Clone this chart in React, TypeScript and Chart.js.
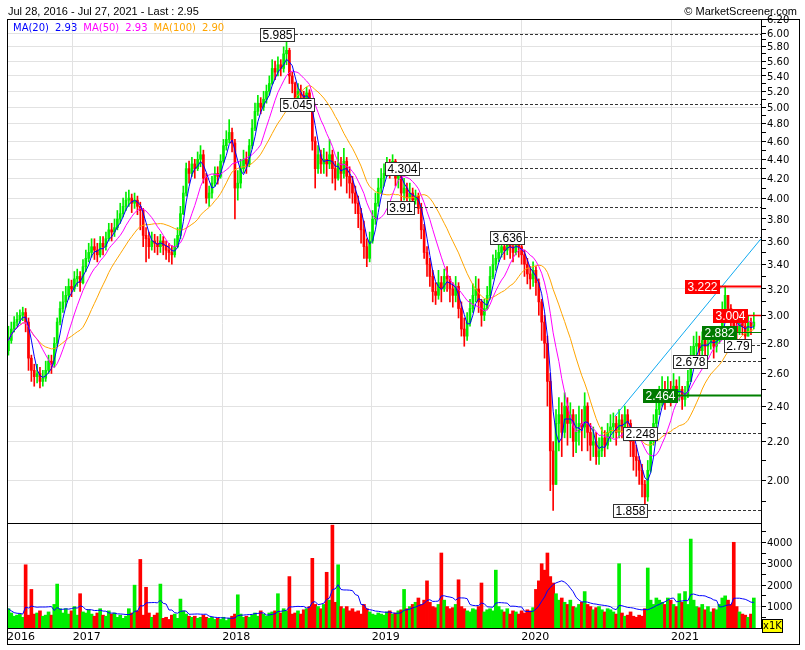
import React, { useEffect, useRef } from 'react';
import { Chart, registerables } from 'chart.js';

Chart.register(...registerables);

// ---------- DATA (weekly candles, Jul 2016 - Jul 2021) ----------
const firstOpen = 2.75;

const closes = [
  2.82, 2.90, 2.95, 2.97, 3.00, 3.02, 2.95, 2.70, 2.62, 2.58,
  2.60, 2.55, 2.57, 2.62, 2.68, 2.66, 2.80, 2.95, 3.05, 3.10,
  3.15, 3.22, 3.20, 3.28, 3.30, 3.25, 3.38, 3.45, 3.50, 3.55,
  3.52, 3.48, 3.58, 3.55, 3.62, 3.70, 3.68, 3.72, 3.80, 3.85,
  3.92, 3.98, 4.00, 3.95, 3.98, 3.92, 3.88, 3.65, 3.62, 3.55,
  3.60, 3.58, 3.55, 3.60, 3.56, 3.52, 3.50, 3.48, 3.55, 3.65,
  3.85, 4.05, 4.30, 4.25, 4.35, 4.30, 4.40, 4.45, 4.20, 4.00,
  4.05, 4.15, 4.25, 4.22, 4.38, 4.55, 4.62, 4.70, 4.58, 4.10,
  4.15, 4.30, 4.40, 4.35, 4.55, 4.75, 4.95, 5.05, 5.00, 5.10,
  5.20, 5.30, 5.50, 5.45, 5.55, 5.50, 5.70, 5.75, 5.40, 5.30,
  5.10, 5.20, 5.15, 5.05, 5.18, 5.05, 4.60, 4.30, 4.45, 4.35,
  4.40, 4.35, 4.45, 4.30, 4.20, 4.35, 4.25, 4.38, 4.22, 4.15,
  4.05, 3.95, 3.85, 3.70, 3.55, 3.45, 3.60, 3.80, 3.95, 4.10,
  4.20, 4.25, 4.35, 4.30, 4.38, 4.20, 4.25, 4.05, 4.10, 4.00,
  4.05, 3.98, 4.02, 3.90, 3.70, 3.50, 3.40, 3.30, 3.18, 3.15,
  3.25, 3.20, 3.30, 3.28, 3.20, 3.15, 3.22, 3.05, 2.90, 2.85,
  2.95, 3.05, 3.15, 3.20, 3.10, 3.00, 3.05, 3.15, 3.30, 3.40,
  3.45, 3.50, 3.55, 3.52, 3.58, 3.55, 3.50, 3.58, 3.55, 3.48,
  3.40, 3.32, 3.28, 3.35, 3.25, 3.10, 2.95, 2.80, 2.55, 2.15,
  1.98, 2.30, 2.35, 2.25, 2.40, 2.30, 2.35, 2.20, 2.25, 2.30,
  2.28, 2.40, 2.25, 2.18, 2.20, 2.12, 2.15, 2.22, 2.18, 2.25,
  2.28, 2.30, 2.25, 2.32, 2.28, 2.35, 2.30, 2.20, 2.12, 2.10,
  2.05, 1.98, 1.92, 2.05, 2.20, 2.30, 2.38, 2.42, 2.48, 2.45,
  2.50, 2.45, 2.52, 2.48, 2.50, 2.44, 2.46, 2.55, 2.72, 2.78,
  2.80, 2.75, 2.82, 2.78, 2.80, 2.85, 2.78, 2.82, 2.88, 2.95,
  3.15, 3.05, 2.95, 2.92, 2.88, 2.95, 2.92, 2.85, 2.95, 2.92, 2.95,
];

const highs = [
  2.92, 2.95, 2.99, 3.02, 3.04, 3.06, 3.05, 2.98, 2.72, 2.66,
  2.66, 2.64, 2.62, 2.68, 2.72, 2.72, 2.84, 2.98, 3.10, 3.18,
  3.22, 3.28, 3.27, 3.34, 3.36, 3.34, 3.44, 3.52, 3.58, 3.62,
  3.62, 3.58, 3.64, 3.64, 3.68, 3.76, 3.76, 3.80, 3.88, 3.95,
  4.00, 4.06, 4.08, 4.04, 4.05, 4.02, 3.96, 3.90, 3.72, 3.68,
  3.68, 3.66, 3.64, 3.66, 3.64, 3.60, 3.58, 3.56, 3.62, 3.72,
  3.92, 4.12, 4.36, 4.38, 4.42, 4.40, 4.48, 4.55, 4.50, 4.25,
  4.12, 4.22, 4.32, 4.32, 4.45, 4.62, 4.72, 4.85, 4.75, 4.62,
  4.28, 4.40, 4.50, 4.48, 4.62, 4.85, 5.05, 5.15, 5.12, 5.20,
  5.28, 5.40, 5.62, 5.60, 5.66, 5.62, 5.80, 5.985, 5.78, 5.45,
  5.32, 5.30, 5.28, 5.20, 5.25, 5.22, 5.08, 4.65, 4.55, 4.50,
  4.52, 4.48, 4.62, 4.50, 4.38, 4.48, 4.42, 4.52, 4.42, 4.32,
  4.22, 4.12, 4.02, 3.90, 3.78, 3.62, 3.68, 3.88, 4.05, 4.20,
  4.30, 4.35, 4.42, 4.40, 4.45, 4.40, 4.32, 4.28, 4.20, 4.15,
  4.15, 4.10, 4.08, 4.05, 3.95, 3.75, 3.55, 3.45, 3.35, 3.25,
  3.35, 3.30, 3.36, 3.38, 3.30, 3.25, 3.30, 3.25, 3.10, 2.98,
  3.02, 3.12, 3.24, 3.30, 3.28, 3.12, 3.12, 3.22, 3.38, 3.48,
  3.52, 3.58, 3.62, 3.60, 3.636, 3.62, 3.60, 3.62, 3.60, 3.58,
  3.52, 3.45, 3.38, 3.42, 3.38, 3.28, 3.12, 3.00, 2.85, 2.60,
  2.20, 2.38, 2.45, 2.42, 2.48, 2.45, 2.42, 2.38, 2.35, 2.40,
  2.38, 2.48, 2.42, 2.30, 2.28, 2.25, 2.22, 2.28, 2.26, 2.30,
  2.35, 2.36, 2.34, 2.38, 2.35, 2.40, 2.38, 2.32, 2.24, 2.18,
  2.12, 2.08, 2.00, 2.10, 2.25, 2.35, 2.45, 2.52, 2.58, 2.55,
  2.58, 2.55, 2.60, 2.56, 2.58, 2.52, 2.52, 2.62, 2.78, 2.85,
  2.88, 2.85, 2.88, 2.86, 2.86, 2.90, 2.86, 2.88, 2.92, 3.10,
  3.222, 3.15, 3.08, 3.00, 2.98, 3.00, 2.98, 2.95, 3.00, 2.98, 3.02,
];

const lows = [
  2.72, 2.80, 2.88, 2.92, 2.94, 2.96, 2.88, 2.62, 2.55, 2.52,
  2.54, 2.51, 2.52, 2.55, 2.60, 2.60, 2.64, 2.78, 2.93, 3.02,
  3.06, 3.12, 3.14, 3.18, 3.22, 3.18, 3.24, 3.34, 3.42, 3.46,
  3.44, 3.42, 3.46, 3.48, 3.52, 3.60, 3.60, 3.64, 3.70, 3.76,
  3.82, 3.88, 3.92, 3.86, 3.90, 3.84, 3.70, 3.55, 3.42, 3.45,
  3.52, 3.50, 3.48, 3.50, 3.48, 3.44, 3.42, 3.40, 3.46, 3.54,
  3.62, 3.84, 4.02, 4.15, 4.22, 4.20, 4.28, 4.32, 4.15, 3.95,
  3.92, 4.00, 4.12, 4.14, 4.20, 4.36, 4.50, 4.58, 4.48, 3.80,
  3.98, 4.10, 4.26, 4.25, 4.32, 4.52, 4.72, 4.90, 4.92, 4.96,
  5.05, 5.15, 5.28, 5.35, 5.40, 5.40, 5.45, 5.55, 5.30, 5.18,
  5.02, 5.05, 5.06, 4.98, 5.00, 4.95, 4.50, 4.10, 4.25, 4.25,
  4.25, 4.22, 4.30, 4.15, 4.08, 4.18, 4.12, 4.20, 4.05, 4.00,
  3.95, 3.85, 3.72, 3.58, 3.45, 3.38, 3.42, 3.58, 3.75, 3.92,
  4.05, 4.12, 4.22, 4.20, 4.25, 4.12, 4.10, 3.95, 3.98, 3.91,
  3.92, 3.92, 3.94, 3.85, 3.62, 3.45, 3.30, 3.22, 3.10, 3.08,
  3.12, 3.10, 3.18, 3.18, 3.10, 3.06, 3.10, 2.98, 2.85, 2.78,
  2.82, 2.92, 3.02, 3.10, 3.02, 2.92, 2.96, 3.04, 3.12, 3.28,
  3.35, 3.42, 3.46, 3.44, 3.48, 3.45, 3.42, 3.48, 3.46, 3.40,
  3.30, 3.24, 3.20, 3.22, 3.15, 3.00, 2.82, 2.70, 2.40, 1.95,
  1.858, 1.98, 2.15, 2.12, 2.22, 2.18, 2.22, 2.12, 2.14, 2.18,
  2.15, 2.22, 2.15, 2.10, 2.12, 2.08, 2.08, 2.12, 2.12, 2.16,
  2.20, 2.22, 2.18, 2.22, 2.22, 2.26, 2.22, 2.12, 2.05, 2.02,
  1.98, 1.92, 1.858, 1.90, 2.04, 2.18, 2.28, 2.35, 2.40, 2.38,
  2.42, 2.40, 2.44, 2.42, 2.43, 2.38, 2.40, 2.45, 2.55, 2.68,
  2.70, 2.68, 2.72, 2.70, 2.72, 2.76, 2.70, 2.74, 2.80, 2.86,
  2.95, 2.98, 2.90, 2.86, 2.82, 2.86, 2.86, 2.75, 2.85, 2.86, 2.90,
];

// volume in shares (axis shown x1K)
const volumes = [
  900, 700, 550, 600, 650, 500, 2950, 600, 1800, 650,
  700, 800, 550, 600, 750, 600, 1100, 2050, 900, 700,
  900, 650, 800, 1000, 600, 1600, 750, 700, 850, 650,
  550, 700, 900, 600, 550, 800, 650, 700, 500, 600,
  450, 550, 900, 700, 2000, 800, 3200, 600, 1900, 700,
  500, 600, 700, 2050, 450, 500, 400, 600, 650, 450,
  1350, 800, 650, 550, 500, 550, 450, 500, 600, 500,
  450, 500, 400, 450, 400, 500, 350, 450, 550, 650,
  1550, 650, 500, 550, 500, 600, 700, 550, 800, 650,
  550, 700, 750, 800, 1600, 700, 900, 800, 2400, 650,
  700, 800, 650, 850, 900, 1000, 3250, 1100, 1000, 900,
  1100, 2600, 1300, 4800, 1200, 2950, 1000, 900, 1000, 800,
  900, 750, 800, 650, 1100, 900, 750, 650, 600, 700,
  650, 600, 750, 800, 650, 700, 800, 850, 1800, 900,
  1000, 1100, 1200, 1400, 1100, 1300, 2200, 1200, 1000, 950,
  1100, 3500, 1300, 1000, 900, 950, 1100, 2250, 1000, 900,
  800, 750, 900, 850, 1000, 2100, 750, 850, 900, 800,
  2700, 1000, 850, 750, 900, 650, 800, 750, 650, 800,
  700, 850, 800, 950, 1800, 2200, 3000, 2700, 3500, 2400,
  2100, 1600, 1300, 1400, 1200, 1100, 1300, 1000, 950, 1100,
  1200, 1700, 1100, 1000, 850, 950, 1000, 850, 750, 900,
  850, 750, 650, 3000, 700, 550, 600, 750, 550, 500,
  600, 550, 900, 2800, 1300, 1100, 1400, 1300, 1200, 1100,
  1400, 1300, 1100, 1000, 1600, 1200, 1700, 1100, 4150, 1300,
  1000, 950, 1100, 850, 1000, 750, 900, 850, 1100, 1400,
  1500, 1300, 1100, 4000, 1000, 750, 650, 600, 500, 650, 1400,
];

const yearLabels = ['2016', '2017', '2018', '2019', '2020', '2021'];
const yearWeeks = [-0.5, 22.43, 74.57, 126.71, 178.86, 231.14];

const priceLabelTicks = [6.2, 6.0, 5.8, 5.6, 5.4, 5.2, 5.0, 4.8, 4.6, 4.4, 4.2, 4.0, 3.8, 3.6, 3.4, 3.2, 3.0, 2.8, 2.6, 2.4, 2.2, 2.0];
const priceMinorTicks = [6.1, 5.9, 5.7, 5.5, 5.3, 5.1, 4.9, 4.7, 4.5, 4.3, 4.1, 3.9, 3.7, 3.5, 3.3, 3.1, 2.9, 2.7, 2.5, 2.3, 2.1, 1.9];
const volumeLabelTicks = [1000, 2000, 3000, 4000];
const volumeMinorTicks = [500, 1500, 2500, 3500, 4500];

const maLegend = [
  { name: 'MA(20)', value: '2.93', color: '#0000ff' },
  { name: 'MA(50)', value: '2.93', color: '#ff00ff' },
  { name: 'MA(100)', value: '2.90', color: '#ffa500' },
];

// trend line: [week, price]
const trendWeeks = [211.5, 262.5];
const trendPrices = [2.34, 3.62];

// level annotations: label, value, week where the label box ends
const levelNotes = [
  { label: '5.985', value: 5.985, at: 100.0, kind: 'plain' },
  { label: '5.045', value: 5.045, at: 106.9, kind: 'plain' },
  { label: '4.304', value: 4.304, at: 143.5, kind: 'plain' },
  { label: '3.91', value: 3.91, at: 141.8, kind: 'plain' },
  { label: '3.636', value: 3.636, at: 180.2, kind: 'plain' },
  { label: '2.678', value: 2.678, at: 244.0, kind: 'plain' },
  { label: '2.248', value: 2.248, at: 226.6, kind: 'plain' },
  { label: '1.858', value: 1.858, at: 223.1, kind: 'plain' },
  { label: '2.79', value: 2.79, at: 259.4, kind: 'plain' },
  { label: '3.222', value: 3.222, at: 248.2, kind: 'red', width: 2 },
  { label: '3.004', value: 3.004, at: 258.0, kind: 'red', width: 1.5 },
  { label: '2.882', value: 2.882, at: 254.1, kind: 'green', width: 1 },
  { label: '2.464', value: 2.464, at: 233.5, kind: 'green', width: 2 },
];

// ---------- derived ----------
const opens = closes.map((c, i) => (i === 0 ? firstOpen : closes[i - 1]));
const upColor = '#00ee00';
const downColor = '#ff0000';
const candleColors = closes.map((c, i) => (c >= opens[i] ? upColor : downColor));

const sma = (arr: number[], n: number) =>
  arr.map((_, i) => {
    const from = Math.max(0, i - n + 1);
    let s = 0;
    for (let k = from; k <= i; k++) s += arr[k];
    return s / (i - from + 1);
  });

const ma20 = sma(closes, 4);
const ma50 = sma(closes, 10);
const ma100 = sma(closes, 20);
const volMa = sma(volumes, 10);

const pts = (arr: number[]) => arr.map((v, i) => ({ x: i, y: v }));

const framePlugin = {
  id: 'frame',
  afterDatasetsDraw(chart: any) {
    const { ctx, chartArea } = chart;
    const xs = chart.scales.x;
    const ys = chart.scales.y;
    ctx.save();
    ctx.font = '12px "Liberation Sans", Arial, sans-serif';
    ctx.textAlign = 'center';
    ctx.textBaseline = 'middle';
    for (const n of levelNotes) {
      const y = Math.round(ys.getPixelForValue(n.value)) + 0.5;
      const xr = Math.round(xs.getPixelForValue(n.at));
      const tw = ctx.measureText(n.label).width;
      const w = Math.round(tw + 5);
      const h = 14;
      ctx.beginPath();
      if (n.kind === 'plain') {
        ctx.setLineDash([3, 2]);
        ctx.strokeStyle = '#333';
        ctx.lineWidth = 1;
      } else {
        ctx.setLineDash([]);
        ctx.strokeStyle = n.kind === 'red' ? '#ff0000' : '#008000';
        ctx.lineWidth = (n as any).width || 1;
      }
      ctx.moveTo(xr, y);
      ctx.lineTo(chartArea.right, y);
      ctx.stroke();
      ctx.setLineDash([]);
      const bx = xr - w;
      const by = Math.round(y - h / 2);
      if (n.kind === 'plain') {
        ctx.fillStyle = '#fff';
        ctx.fillRect(bx, by, w, h);
        ctx.strokeStyle = '#333';
        ctx.lineWidth = 1;
        ctx.strokeRect(bx + 0.5, by + 0.5, w - 1, h - 1);
        ctx.fillStyle = '#000';
      } else {
        ctx.fillStyle = n.kind === 'red' ? '#ff0000' : '#007a00';
        ctx.fillRect(bx, by, w, h);
        ctx.fillStyle = '#fff';
      }
      ctx.fillText(n.label, bx + w / 2, by + h / 2 + 0.5);
    }
    ctx.restore();
  },
  afterDraw(chart: any) {
    const { ctx, chartArea } = chart;
    const yv = chart.scales.yv;
    const yp = chart.scales.y;
    ctx.save();
    ctx.strokeStyle = '#000';
    ctx.lineWidth = 1;
    const L = chartArea.left + 0.5;
    const R = yp.right - 0.5;
    const T = chartArea.top + 0.5;
    const B = chart.scales.x.bottom - 0.5;
    ctx.strokeRect(L, T, R - L, B - T);
    ctx.beginPath();
    ctx.moveTo(chartArea.left, Math.round(yv.top) + 0.5);
    ctx.lineTo(chartArea.right, Math.round(yv.top) + 0.5);
    ctx.moveTo(chartArea.left, Math.round(chartArea.bottom) + 0.5);
    ctx.lineTo(chartArea.right, Math.round(chartArea.bottom) + 0.5);
    ctx.stroke();
    ctx.restore();
  },
};

export default function App() {
  const ref = useRef<HTMLCanvasElement | null>(null);

  useEffect(() => {
    if (!ref.current) return;
    const chart = new Chart(ref.current, {
      type: 'bar',
      data: {
        datasets: [
          { type: 'line', data: pts(ma20), borderColor: '#0000ff', borderWidth: 1, pointRadius: 0, yAxisID: 'y', order: 0 } as any,
          { type: 'line', data: pts(ma50), borderColor: '#ff00ff', borderWidth: 1, pointRadius: 0, yAxisID: 'y', order: 0 } as any,
          { type: 'line', data: pts(ma100), borderColor: '#ffa500', borderWidth: 1, pointRadius: 0, yAxisID: 'y', order: 0 } as any,
          {
            type: 'line',
            data: trendWeeks.map((w, i) => ({ x: w, y: trendPrices[i] })),
            borderColor: '#10aaf0',
            borderWidth: 1,
            pointRadius: 0,
            yAxisID: 'y',
            order: 0,
          } as any,
          { type: 'line', data: pts(volMa), borderColor: '#0000ff', borderWidth: 1, pointRadius: 0, yAxisID: 'yv', order: 0 } as any,
          {
            type: 'bar',
            data: closes.map((c, i) => ({ x: i, y: [opens[i], c] })),
            backgroundColor: candleColors,
            barThickness: 2,
            minBarLength: 1,
            grouped: false,
            yAxisID: 'y',
            order: 1,
          } as any,
          {
            type: 'bar',
            data: closes.map((_, i) => ({ x: i, y: [lows[i], highs[i]] })),
            backgroundColor: candleColors,
            barThickness: 1,
            grouped: false,
            yAxisID: 'y',
            order: 2,
          } as any,
          {
            type: 'bar',
            data: pts(volumes),
            backgroundColor: candleColors,
            barThickness: 3,
            grouped: false,
            yAxisID: 'yv',
            order: 3,
          } as any,
        ],
      },
      options: {
        responsive: false,
        maintainAspectRatio: false,
        devicePixelRatio: 1,
        animation: false,
        events: [],
        layout: { padding: { left: 7, right: 5, top: 19, bottom: 5 } },
        plugins: { legend: { display: false }, tooltip: { enabled: false } },
        scales: {
          x: {
            type: 'linear',
            offset: false,
            min: -0.5,
            max: 262.5,
            afterBuildTicks: (s: any) => {
              s.ticks = yearWeeks.map((v) => ({ value: v }));
            },
            afterFit: (s: any) => {
              s.height = 17;
            },
            grid: {
              color: (c: any) => (c.index === 0 ? 'rgba(0,0,0,0)' : '#e2e2e2'),
              drawTicks: false,
              offset: false,
            },
            border: { display: true, color: '#000' },
            ticks: {
              autoSkip: false,
              maxRotation: 0,
              align: 'start',
              padding: 3,
              color: '#000',
              font: { family: '"DejaVu Sans", Verdana, sans-serif', size: 11 },
              callback: (_v: any, i: number) => yearLabels[i],
            },
          },
          y: {
            type: 'logarithmic',
            position: 'right',
            stack: 'panes',
            stackWeight: 504,
            min: 1.801,
            max: 6.21,
            afterBuildTicks: (s: any) => {
              s.ticks = [...priceLabelTicks, ...priceMinorTicks]
                .sort((a, b) => a - b)
                .map((v) => ({ value: v }));
            },
            afterFit: (s: any) => {
              s.width = 39;
            },
            grid: {
              color: (c: any) =>
                c.tick && priceLabelTicks.includes(c.tick.value) ? '#e2e2e2' : 'rgba(0,0,0,0)',
              tickColor: '#000',
              tickLength: 5,
            },
            border: { display: true, color: '#000' },
            ticks: {
              autoSkip: false,
              padding: 1,
              labelOffset: 1,
              color: '#000',
              font: { family: '"DejaVu Sans", Verdana, sans-serif', size: 10 },
              callback: (v: any) => (priceLabelTicks.includes(v) ? Number(v).toFixed(2) : ''),
            },
          },
          yv: {
            type: 'linear',
            position: 'right',
            stack: 'panes',
            stackWeight: 105,
            min: 0,
            max: 4900,
            afterBuildTicks: (s: any) => {
              s.ticks = [...volumeLabelTicks, ...volumeMinorTicks]
                .sort((a, b) => a - b)
                .map((v) => ({ value: v }));
            },
            afterFit: (s: any) => {
              s.width = 39;
            },
            grid: {
              color: (c: any) =>
                c.tick && volumeLabelTicks.includes(c.tick.value) ? '#e2e2e2' : 'rgba(0,0,0,0)',
              tickColor: '#000',
              tickLength: 5,
            },
            border: { display: true, color: '#000' },
            ticks: {
              autoSkip: false,
              padding: 1,
              labelOffset: 1,
              color: '#000',
              font: { family: '"DejaVu Sans", Verdana, sans-serif', size: 10 },
              callback: (v: any) => (volumeLabelTicks.includes(v) ? String(v) : ''),
            },
          },
        },
      } as any,
      plugins: [framePlugin],
    });
    return () => chart.destroy();
  }, []);

  return (
    <div style={{ position: 'absolute', left: 0, top: 0, width: 805, height: 650, background: '#fff', overflow: 'hidden' }}>
      <canvas ref={ref} width={805} height={650} style={{ position: 'absolute', left: 0, top: 0, width: 805, height: 650 }} />
      <div
        style={{
          position: 'absolute',
          left: 8,
          top: 4,
          font: '11px "Liberation Sans", Arial, sans-serif',
          lineHeight: '14px',
          color: '#000',
          whiteSpace: 'nowrap',
        }}
      >
        Jul 28, 2016 - Jul 27, 2021 - Last : 2.95
      </div>
      <div
        style={{
          position: 'absolute',
          right: 8,
          top: 4,
          font: '11px "Liberation Sans", Arial, sans-serif',
          lineHeight: '14px',
          color: '#000',
          whiteSpace: 'nowrap',
        }}
      >
        © MarketScreener.com
      </div>
      <div
        style={{
          position: 'absolute',
          left: 13,
          top: 21,
          font: '10px "DejaVu Sans", Verdana, sans-serif',
          lineHeight: '13px',
          whiteSpace: 'nowrap',
        }}
      >
        {maLegend.map((m) => (
          <span key={m.name} style={{ color: m.color, marginRight: 6 }}>
            {m.name}
            <span style={{ marginLeft: 6 }}>{m.value}</span>
          </span>
        ))}
      </div>
      <div
        style={{
          position: 'absolute',
          left: 762,
          top: 619,
          width: 19,
          height: 12,
          border: '1px solid #000',
          background: '#ffff00',
          font: '10px "DejaVu Sans", Verdana, sans-serif',
          lineHeight: '12px',
          textAlign: 'center',
          color: '#000',
        }}
      >
        x1K
      </div>
    </div>
  );
}
